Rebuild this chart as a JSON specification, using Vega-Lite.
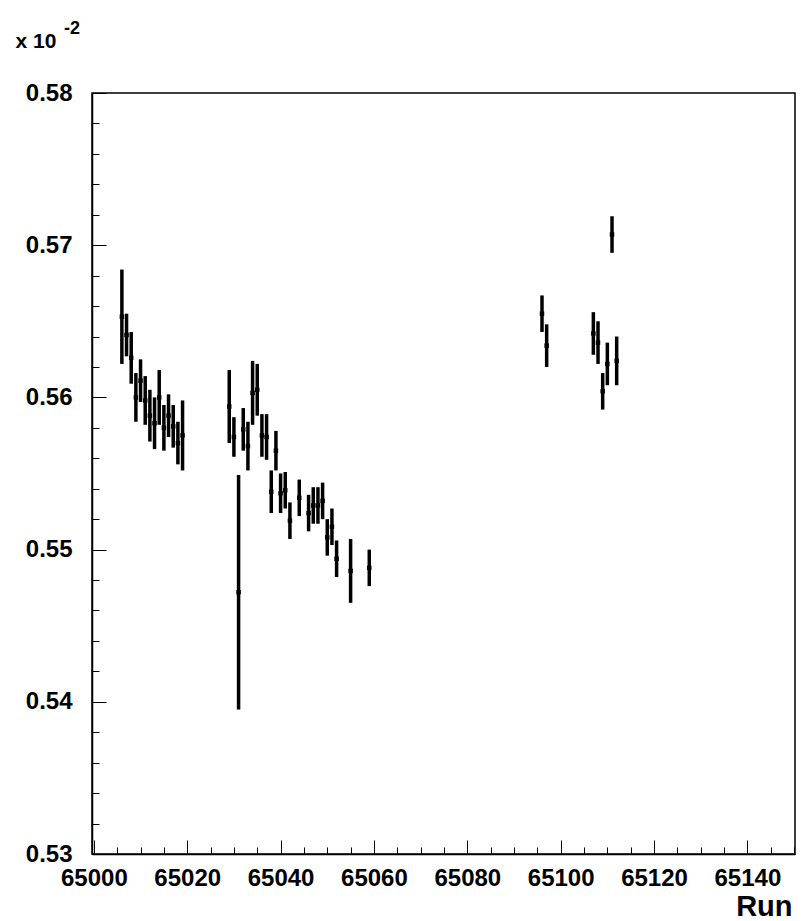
{
  "$schema": "https://vega.github.io/schema/vega-lite/v6.json",
  "width": 703,
  "height": 761,
  "autosize": "none",
  "padding": {"left": 92, "top": 93, "right": 8, "bottom": 67},
  "background": "white",
  "config": {"view": {"stroke": "black", "strokeWidth": 1.5}, "font": "Liberation Sans"},
  "title": {"text": "-2", "anchor": "start", "frame": "group", "dx": -28, "dy": 22, "offset": 0, "fontSize": 18, "fontWeight": "bold", "font": "Liberation Sans", "color": "black", "baseline": "alphabetic"},
  "data": {"values": [
    {"run": 65006, "value": 0.5653, "lo": 0.5622, "hi": 0.5684},
    {"run": 65007, "value": 0.5641, "lo": 0.5627, "hi": 0.5655},
    {"run": 65008, "value": 0.5626, "lo": 0.5609, "hi": 0.5643},
    {"run": 65009, "value": 0.5600, "lo": 0.5584, "hi": 0.5616},
    {"run": 65010, "value": 0.5611, "lo": 0.5597, "hi": 0.5625},
    {"run": 65011, "value": 0.5598, "lo": 0.5582, "hi": 0.5614},
    {"run": 65012, "value": 0.5588, "lo": 0.5571, "hi": 0.5605},
    {"run": 65013, "value": 0.5583, "lo": 0.5566, "hi": 0.5600},
    {"run": 65014, "value": 0.5600, "lo": 0.5582, "hi": 0.5618},
    {"run": 65015, "value": 0.5580, "lo": 0.5565, "hi": 0.5595},
    {"run": 65016, "value": 0.5588, "lo": 0.5574, "hi": 0.5602},
    {"run": 65017, "value": 0.5581, "lo": 0.5567, "hi": 0.5595},
    {"run": 65018, "value": 0.5570, "lo": 0.5556, "hi": 0.5584},
    {"run": 65019, "value": 0.5575, "lo": 0.5552, "hi": 0.5598},
    {"run": 65029, "value": 0.5594, "lo": 0.5570, "hi": 0.5618},
    {"run": 65030, "value": 0.5574, "lo": 0.5561, "hi": 0.5587},
    {"run": 65031, "value": 0.5472, "lo": 0.5395, "hi": 0.5549},
    {"run": 65032, "value": 0.5579, "lo": 0.5565, "hi": 0.5593},
    {"run": 65033, "value": 0.5568, "lo": 0.5552, "hi": 0.5584},
    {"run": 65034, "value": 0.5603, "lo": 0.5582, "hi": 0.5624},
    {"run": 65035, "value": 0.5605, "lo": 0.5588, "hi": 0.5622},
    {"run": 65036, "value": 0.5575, "lo": 0.5561, "hi": 0.5589},
    {"run": 65037, "value": 0.5574, "lo": 0.5559, "hi": 0.5589},
    {"run": 65038, "value": 0.5538, "lo": 0.5524, "hi": 0.5552},
    {"run": 65039, "value": 0.5565, "lo": 0.5552, "hi": 0.5578},
    {"run": 65040, "value": 0.5537, "lo": 0.5524, "hi": 0.5550},
    {"run": 65041, "value": 0.5539, "lo": 0.5527, "hi": 0.5551},
    {"run": 65042, "value": 0.5519, "lo": 0.5507, "hi": 0.5531},
    {"run": 65044, "value": 0.5534, "lo": 0.5522, "hi": 0.5546},
    {"run": 65046, "value": 0.5524, "lo": 0.5512, "hi": 0.5536},
    {"run": 65047, "value": 0.5529, "lo": 0.5517, "hi": 0.5541},
    {"run": 65048, "value": 0.5529, "lo": 0.5517, "hi": 0.5541},
    {"run": 65049, "value": 0.5532, "lo": 0.5520, "hi": 0.5544},
    {"run": 65050, "value": 0.5508, "lo": 0.5496, "hi": 0.5520},
    {"run": 65051, "value": 0.5515, "lo": 0.5503, "hi": 0.5527},
    {"run": 65052, "value": 0.5494, "lo": 0.5482, "hi": 0.5506},
    {"run": 65055, "value": 0.5486, "lo": 0.5465, "hi": 0.5507},
    {"run": 65059, "value": 0.5488, "lo": 0.5476, "hi": 0.5500},
    {"run": 65096, "value": 0.5655, "lo": 0.5643, "hi": 0.5667},
    {"run": 65097, "value": 0.5634, "lo": 0.5620, "hi": 0.5648},
    {"run": 65107, "value": 0.5642, "lo": 0.5628, "hi": 0.5656},
    {"run": 65108, "value": 0.5636, "lo": 0.5622, "hi": 0.5650},
    {"run": 65109, "value": 0.5604, "lo": 0.5592, "hi": 0.5616},
    {"run": 65110, "value": 0.5622, "lo": 0.5608, "hi": 0.5636},
    {"run": 65111, "value": 0.5707, "lo": 0.5695, "hi": 0.5719},
    {"run": 65112, "value": 0.5624, "lo": 0.5608, "hi": 0.5640}
  ]},
  "layer": [
    {
      "mark": {"type": "rule", "strokeWidth": 3.5, "color": "black"},
      "encoding": {
        "x": {"field": "run", "type": "quantitative",
          "scale": {"domain": [64999.6, 65150.2], "nice": false, "zero": false},
          "axis": {"orient": "bottom", "values": [65000, 65020, 65040, 65060, 65080, 65100, 65120, 65140],
            "format": "d", "tickSize": -14, "tickColor": "black", "tickWidth": 1,
            "domainColor": "black", "domainWidth": 1.5, "grid": false,
            "labelFont": "Liberation Sans", "labelFontWeight": "bold", "labelFontSize": 24, "labelColor": "black",
            "labelPadding": 26, "labelBaseline": "top", "labelFlush": false, "labelOverlap": false,
            "title": "Run", "titleFont": "Liberation Sans", "titleFontWeight": "bold", "titleFontSize": 29,
            "titleColor": "black", "titleAnchor": "end", "titleAlign": "right", "titleBaseline": "alphabetic",
            "titleX": 700, "titleY": 61}},
        "y": {"field": "lo", "type": "quantitative",
          "scale": {"domain": [0.53, 0.58], "nice": false, "zero": false},
          "axis": {"orient": "left", "values": [0.53, 0.54, 0.55, 0.56, 0.57, 0.58],
            "format": ".2f", "tickSize": -14, "tickColor": "black", "tickWidth": 1,
            "domainColor": "black", "domainWidth": 1.5, "grid": false,
            "labelFont": "Liberation Sans", "labelFontWeight": "bold", "labelFontSize": 24, "labelColor": "black",
            "labelPadding": 34, "labelFlush": false, "labelOverlap": false,
            "title": "x 10", "titleFont": "Liberation Sans", "titleFontWeight": "bold", "titleFontSize": 21,
            "titleColor": "black", "titleAngle": 0, "titleAlign": "left", "titleBaseline": "alphabetic",
            "titleX": -77, "titleY": -46}},
        "y2": {"field": "hi"}
      }
    },
    {
      "mark": {"type": "point", "filled": true, "shape": "square", "size": 20, "color": "black", "opacity": 1},
      "encoding": {
        "x": {"field": "run", "type": "quantitative",
          "axis": {"orient": "bottom", "values": [65005, 65010, 65015, 65025, 65030, 65035, 65045, 65050, 65055, 65065, 65070, 65075, 65085, 65090, 65095, 65105, 65110, 65115, 65125, 65130, 65135, 65145, 65150],
            "tickSize": -7, "tickColor": "black", "tickWidth": 1, "labels": false, "domain": false, "grid": false, "title": null}},
        "y": {"field": "value", "type": "quantitative",
          "axis": {"orient": "left", "values": [0.532, 0.534, 0.536, 0.538, 0.542, 0.544, 0.546, 0.548, 0.552, 0.554, 0.556, 0.558, 0.562, 0.564, 0.566, 0.568, 0.572, 0.574, 0.576, 0.578],
            "tickSize": -7, "tickColor": "black", "tickWidth": 1, "labels": false, "domain": false, "grid": false, "title": null}}
      }
    }
  ],
  "resolve": {"axis": {"x": "independent", "y": "independent"}}
}
